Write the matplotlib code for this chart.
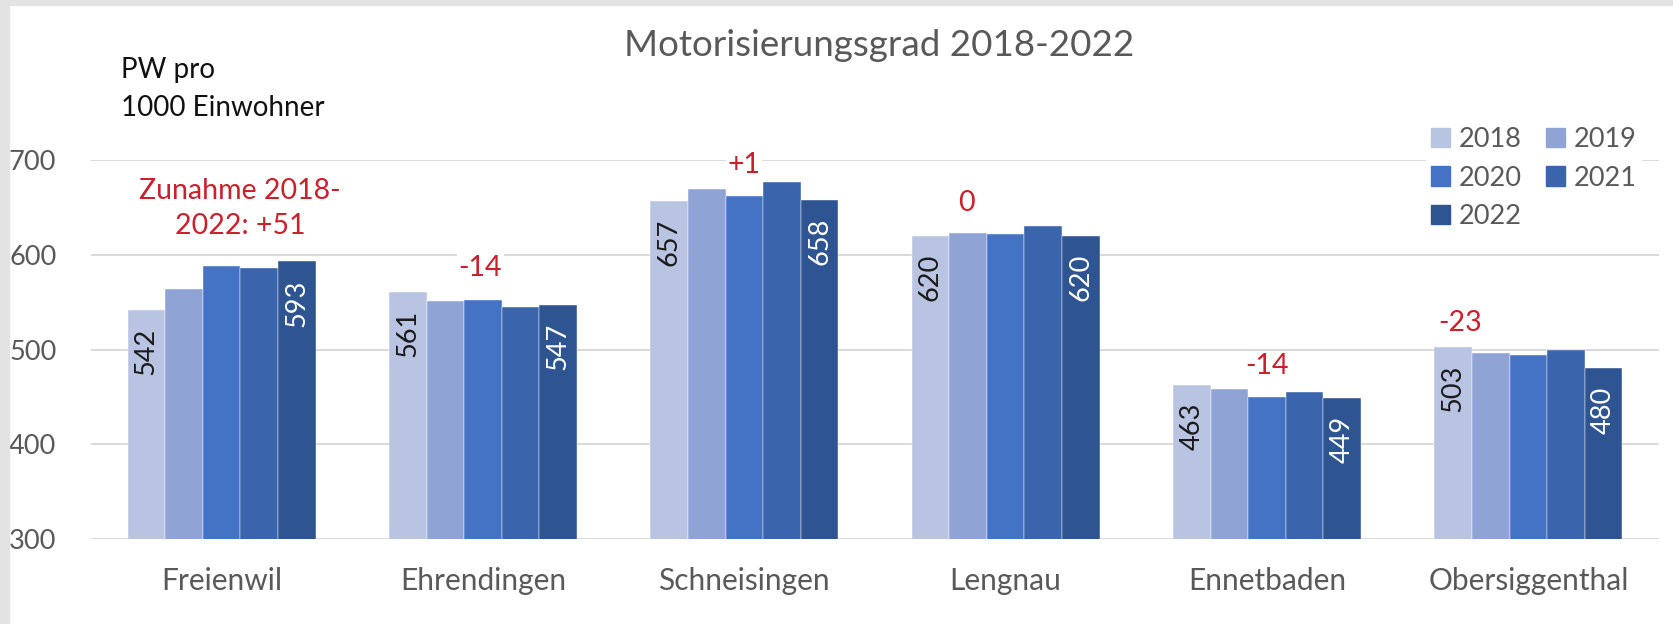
import matplotlib
matplotlib.use('Agg')
import matplotlib.pyplot as plt
import numpy as np
from matplotlib.patches import Rectangle, Patch

plt.rcParams['font.family'] = ['Lato', 'DejaVu Sans']

gemeinden = ['Freienwil', 'Ehrendingen', 'Schneisingen', 'Lengnau', 'Ennetbaden', 'Obersiggenthal']
jahre = ['2018', '2019', '2020', '2021', '2022']
w2018 = [542, 561, 657, 620, 463, 503]
w2019 = [564, 551, 669, 623, 458, 496]
w2020 = [588, 552, 662, 622, 450, 494]
w2021 = [586, 545, 677, 630, 455, 500]
w2022 = [593, 547, 658, 620, 449, 480]
werte = [w2018, w2019, w2020, w2021, w2022]
farben = ['#B9C4E2', '#8FA4D4', '#4472C4', '#3A64AC', '#2F5492']

# Veraenderung 2018-2022 (rote Texte)
diff_texte = ['Zunahme 2018-\n2022: +51', '-14', '+1', '0', '-14', '-23']
diff_x = [0.07, 0.99, 2.0, 2.85, 4.0, 4.74]
diff_y = [649, 586, 695, 655, 483, 528]

fig = plt.figure(figsize=(16.74, 6.24), dpi=100)
# grauer Rahmen oben/links
fig.patches.append(Rectangle((0, 1 - 5/624), 1, 5/624, transform=fig.transFigure,
                             color='#E3E3E3', zorder=0))
fig.patches.append(Rectangle((0, 0), 9/1674, 1, transform=fig.transFigure,
                             color='#E3E3E3', zorder=0))

ax = fig.add_axes([91/1674, 85/624, 1568/1674, 379/624])

x = np.arange(len(gemeinden))
bw = 0.144
for i, (vals, col) in enumerate(zip(werte, farben)):
    ax.bar(x + (i - 2) * bw, vals, bw, color=col, edgecolor='#FFFFFF', linewidth=0.3,
           label=jahre[i], zorder=3)

for j in range(len(gemeinden)):
    ax.annotate(str(w2018[j]), (x[j] - 2 * bw, w2018[j]), xytext=(0, -13), textcoords='offset points',
                rotation=90, ha='center', va='top', fontsize=19.5, color='#1A1A1A', zorder=4)
    ax.annotate(str(w2022[j]), (x[j] + 2 * bw, w2022[j]), xytext=(0, -13), textcoords='offset points',
                rotation=90, ha='center', va='top', fontsize=19.5, color='white', zorder=4)
    ax.text(diff_x[j], diff_y[j], diff_texte[j], ha='center', va='center', fontsize=20.5,
            color='#CC1F2B', linespacing=1.4, zorder=5,
            bbox=dict(facecolor='white', edgecolor='none', pad=1))

ax.set_xlim(-0.5, 5.5)
ax.set_ylim(300, 700)
ax.set_yticks([300, 400, 500, 600, 700])
ax.set_xticks(x)
ax.set_xticklabels(gemeinden)
ax.tick_params(axis='both', length=0, labelsize=19.5, labelcolor='#595959')
ax.tick_params(axis='x', labelsize=21.5, pad=20)
ax.tick_params(axis='y', pad=25)
ax.grid(axis='y', color='#D9D9D9', linewidth=1.4, zorder=0)
for s in ax.spines.values():
    s.set_visible(False)

fig.text(879/1674, 1 - 45/624, 'Motorisierungsgrad 2018-2022', ha='center', va='center',
         fontsize=26.5, color='#595959')
fig.text(121/1674, 1 - 70/624, 'PW pro', ha='left', va='center', fontsize=20, color='#111111')
fig.text(121/1674, 1 - 108/624, '1000 Einwohner', ha='left', va='center', fontsize=20, color='#111111')

handles = [Patch(color=c) for c in farben]
order = [0, 2, 4, 1, 3]
leg = fig.legend([handles[k] for k in order], [jahre[k] for k in order], ncol=2,
                 loc='upper left', bbox_to_anchor=(1412/1674, 1 - 108/624),
                 frameon=True, fontsize=19.5, handlelength=0.72, handleheight=0.72,
                 handletextpad=0.3, columnspacing=0.9, labelspacing=0.5, borderpad=0.2)
leg.get_frame().set_facecolor('white')
leg.get_frame().set_edgecolor('none')
leg.get_frame().set_alpha(1)
for t in leg.get_texts():
    t.set_color('#595959')

fig.savefig('out.png', dpi=100)
